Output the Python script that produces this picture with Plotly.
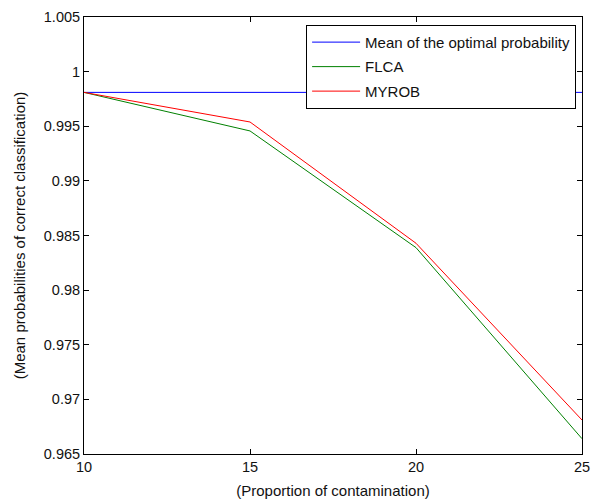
import plotly.graph_objects as go

x_vals = [10, 15, 20, 25]
optimal = [0.9981, 0.9981, 0.9981, 0.9981]
flca = [0.9981, 0.99457, 0.98389, 0.9664]
myrob = [0.9981, 0.99539, 0.98429, 0.96811]

y_ticks = [0.965, 0.97, 0.975, 0.98, 0.985, 0.99, 0.995, 1.0, 1.005]
y_tick_text = ["0.965", "0.97", "0.975", "0.98", "0.985", "0.99", "0.995", "1", "1.005"]
x_ticks = [10, 15, 20, 25]

fig = go.Figure()
fig.add_trace(go.Scatter(x=x_vals, y=optimal, mode="lines", name="Mean of the optimal probability",
                         legendgroup="a", line=dict(color="#0000ff", width=1)))
fig.add_trace(go.Scatter(x=x_vals, y=flca, mode="lines", name="FLCA",
                         legendgroup="b", line=dict(color="#008000", width=1)))
fig.add_trace(go.Scatter(x=x_vals, y=myrob, mode="lines", name="MYROB",
                         legendgroup="c", line=dict(color="#ff0000", width=1)))

axis_common = dict(showline=True, linecolor="black", linewidth=1, mirror="ticks",
                   ticks="inside", ticklen=5, tickcolor="black", showgrid=False,
                   zeroline=False, automargin=False,
                   tickfont=dict(family="Liberation Sans, Arial", size=14.5, color="#111"))

fig.update_layout(
    width=600, height=502,
    margin=dict(l=84, r=18, t=17, b=48),
    paper_bgcolor="white", plot_bgcolor="white",
    font=dict(family="Liberation Sans, Arial", size=15, color="#111"),
    xaxis=dict(range=[10, 25], tickvals=x_ticks,
               title=dict(text="(Proportion of contamination)", standoff=11,
                          font=dict(size=15)),
               **axis_common),
    yaxis=dict(range=[0.965, 1.005], tickvals=y_ticks, ticktext=y_tick_text,
               title=dict(text="(Mean probabilities of correct classification)", standoff=14,
                          font=dict(size=15)),
               **axis_common),
    legend=dict(x=0.446, y=0.982, xanchor="left", yanchor="top",
                bgcolor="white", bordercolor="black", borderwidth=1,
                font=dict(size=15), tracegroupgap=2, itemwidth=48),
    showlegend=True,
)

fig.write_html("out.html", config={"displayModeBar": False},
               post_script="document.body.style.margin='0';")
